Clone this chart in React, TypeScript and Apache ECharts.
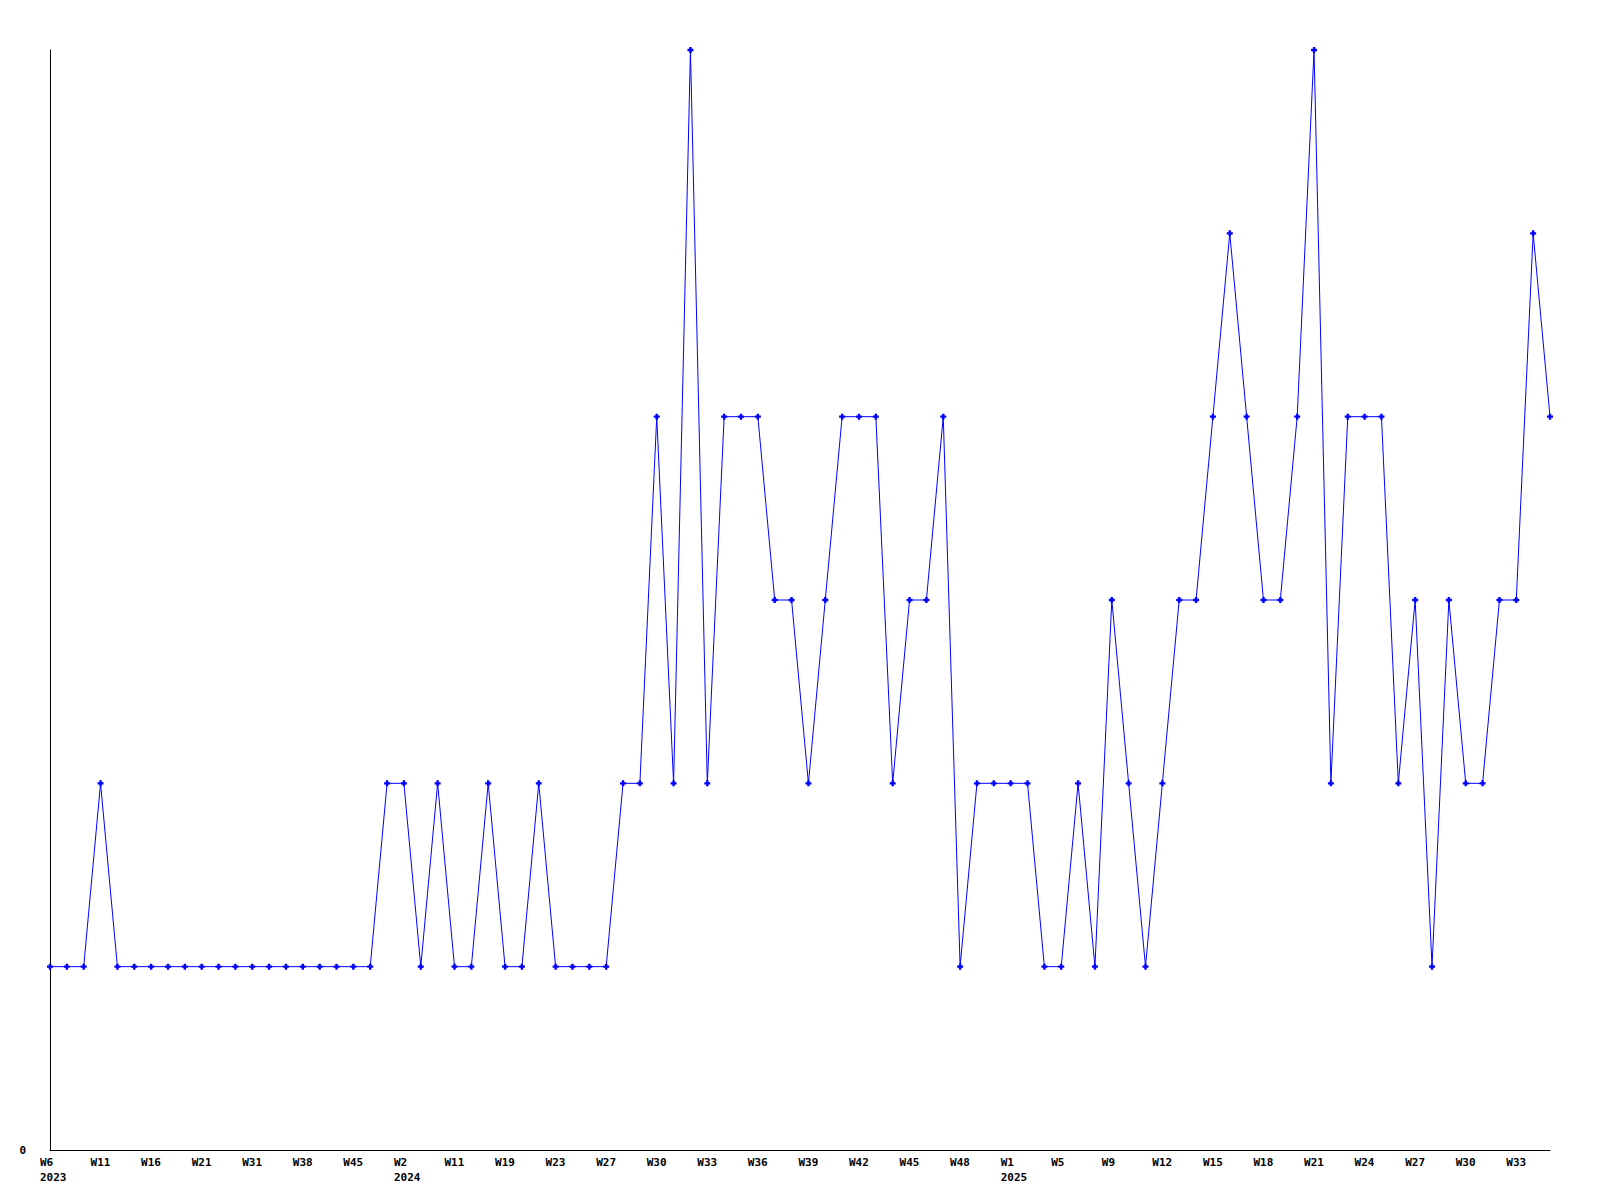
import React, { useEffect, useRef } from "react";
import * as echarts from "echarts";

const weeks: string[] = [
  "W6\n2023", "W7", "W9", "W11", "W13", "W14", "W16", "W18", "W19", "W21",
  "W24", "W28", "W31", "W33", "W36", "W38", "W40", "W43", "W45", "W48",
  "W51", "W2\n2024", "W5", "W8", "W11", "W14", "W17", "W19", "W20", "W22",
  "W23", "W24", "W26", "W27", "W28", "W29", "W30", "W31", "W32", "W33",
  "W34", "W35", "W36", "W37", "W38", "W39", "W40", "W41", "W42", "W43",
  "W44", "W45", "W46", "W47", "W48", "W50", "W52", "W1\n2025", "W2", "W4",
  "W5", "W7", "W8", "W9", "W10", "W11", "W12", "W13", "W14", "W15",
  "W16", "W17", "W18", "W19", "W20", "W21", "W22", "W23", "W24", "W25",
  "W26", "W27", "W28", "W29", "W30", "W31", "W32", "W33", "W34", "W35",
];

const counts: number[] = [
  1, 1, 1, 2, 1, 1, 1, 1, 1, 1,
  1, 1, 1, 1, 1, 1, 1, 1, 1, 1,
  2, 2, 1, 2, 1, 1, 2, 1, 1, 2,
  1, 1, 1, 1, 2, 2, 4, 2, 6, 2,
  4, 4, 4, 3, 3, 2, 3, 4, 4, 4,
  2, 3, 3, 4, 1, 2, 2, 2, 2, 1,
  1, 2, 1, 3, 2, 1, 2, 3, 3, 4,
  5, 4, 3, 3, 4, 6, 2, 4, 4, 4,
  2, 3, 1, 3, 2, 2, 3, 3, 5, 4,
];

const yTicks: number[] = [0];

export default function App() {
  const ref = useRef<HTMLDivElement>(null);
  useEffect(() => {
    if (!ref.current) return;
    const chart = echarts.init(ref.current, null, { renderer: "svg" });
    const font = "'DejaVu Sans Mono', monospace";
    chart.setOption({
      animation: false,
      backgroundColor: "#ffffff",
      grid: { left: 50, right: 50, top: 50, bottom: 50, containLabel: false },
      xAxis: {
        type: "category",
        data: weeks,
        boundaryGap: false,
        axisLine: { show: true, lineStyle: { color: "#000", width: 1 } },
        axisTick: { show: false },
        splitLine: { show: false },
        axisLabel: {
          interval: 2,
          color: "#000",
          fontFamily: font,
          fontWeight: "bold",
          fontSize: 11,
          lineHeight: 15,
          align: "left",
          padding: [0, 0, 0, -10],
          margin: 5,
        },
      },
      yAxis: {
        type: "value",
        min: 0,
        max: 6,
        interval: 6,
        axisLine: { show: true, lineStyle: { color: "#000", width: 1 } },
        axisTick: { show: false },
        splitLine: { show: false },
        axisLabel: {
          color: "#000",
          fontFamily: font,
          fontWeight: "bold",
          fontSize: 11,
          margin: 24,
          formatter: (v: number) => (yTicks.includes(v) ? String(v) : ""),
        },
      },
      series: [
        {
          type: "line",
          data: counts,
          symbol: "path://M1.5,0H3.5V1.5H5V3.5H3.5V5H1.5V3.5H0V1.5H1.5Z",
          symbolSize: 6,
          showSymbol: true,
          lineStyle: { color: "#0000ff", width: 1 },
          itemStyle: { color: "#0000ff" },
          emphasis: { disabled: true },
        },
      ],
    });
    return () => chart.dispose();
  }, []);
  return (
    <div
      ref={ref}
      style={{ position: "absolute", left: 0, top: 0, width: 1600, height: 1200 }}
    />
  );
}
